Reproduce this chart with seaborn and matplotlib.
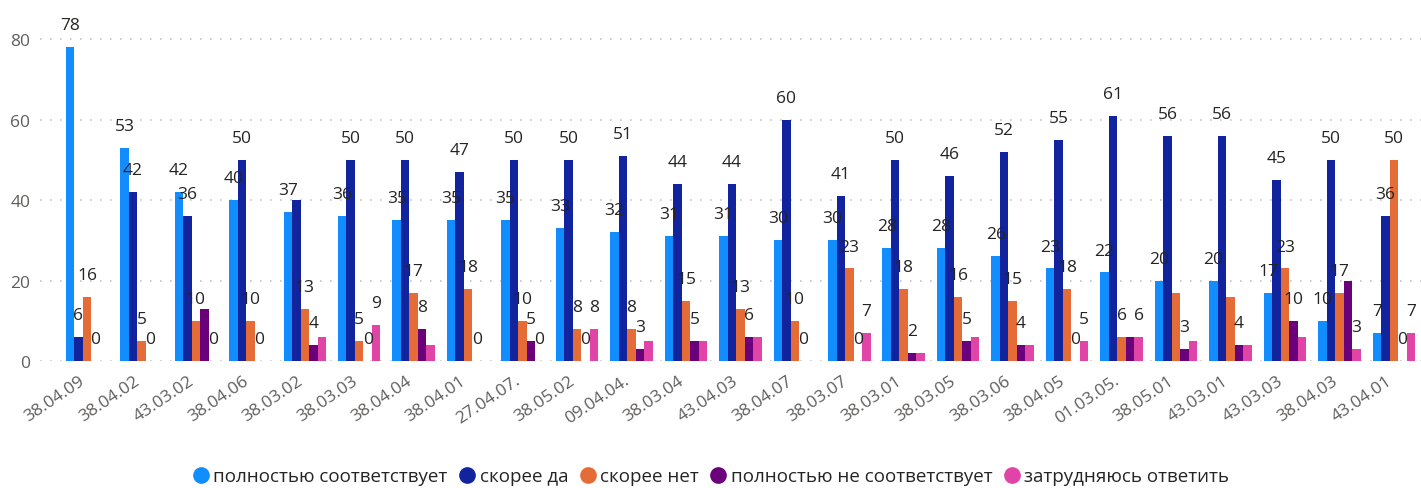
import matplotlib
matplotlib.use("Agg")
import matplotlib.pyplot as plt
import matplotlib.transforms as mtransforms
from matplotlib.lines import Line2D
import seaborn as sns
import pandas as pd

categories = ["38.04.09", "38.04.02", "43.03.02", "38.04.06", "38.03.02", "38.03.03",
              "38.04.04", "38.04.01", "27.04.07.", "38.05.02", "09.04.04.", "38.03.04",
              "43.04.03", "38.04.07", "38.03.07", "38.03.01", "38.03.05", "38.03.06",
              "38.04.05", "01.03.05.", "38.05.01", "43.03.01", "43.03.03", "38.04.03",
              "43.04.01"]

series_names = ["полностью соответствует", "скорее да", "скорее нет",
                "полностью не соответствует", "затрудняюсь ответить"]

full_yes = [78, 53, 42, 40, 37, 36, 35, 35, 35, 33, 32, 31, 31, 30, 30, 28, 28, 26, 23, 22, 20, 20, 17, 10, 7]
rather_yes = [6, 42, 36, 50, 40, 50, 50, 47, 50, 50, 51, 44, 44, 60, 41, 50, 46, 52, 55, 61, 56, 56, 45, 50, 36]
rather_no = [16, 5, 10, 10, 13, 5, 17, 18, 10, 8, 8, 15, 13, 10, 23, 18, 16, 15, 18, 6, 17, 16, 23, 17, 50]
full_no = [0, 0, 13, 0, 4, 0, 8, 0, 5, 0, 3, 5, 6, 0, 0, 2, 5, 4, 0, 6, 3, 4, 10, 20, 0]
hard_to_say = [0, 0, 0, 0, 6, 9, 4, 0, 0, 8, 5, 5, 6, 0, 7, 2, 6, 4, 5, 6, 5, 4, 6, 3, 7]

# data labels hidden in the original (category index, series index)
hidden_labels = {(0, 4), (1, 4), (2, 3), (3, 4), (4, 1), (4, 4), (6, 4), (7, 4),
                 (10, 4), (11, 4), (12, 4), (13, 4), (15, 4), (16, 4), (17, 4),
                 (19, 3), (20, 2), (20, 4), (21, 2), (21, 4), (22, 4), (23, 3)}

colors = ["#118DFF", "#12239E", "#E66C37", "#6B007B", "#E044A7"]

all_values = [full_yes, rather_yes, rather_no, full_no, hard_to_say]
rows = []
for s_name, vals in zip(series_names, all_values):
    for c, v in zip(categories, vals):
        rows.append({"category": c, "series": s_name, "value": v})
df = pd.DataFrame(rows)

sns.set_theme(style="white")
plt.rcParams["font.family"] = ["Open Sans", "DejaVu Sans"]

fig = plt.figure(figsize=(14.21, 4.89), dpi=100)
ax = fig.add_axes([40 / 1421, 127 / 489, 1 - 40 / 1421, 342 / 489])

sns.barplot(data=df, x="category", y="value", hue="series", order=categories,
            hue_order=series_names, palette=colors, width=0.78, gap=0,
            saturation=1, ax=ax, legend=False, errorbar=None, linewidth=0)

for si, cont in enumerate(ax.containers):
    labels = []
    for ci, v in enumerate(all_values[si]):
        labels.append("" if (ci, si) in hidden_labels else f"{v}")
    ax.bar_label(cont, labels=labels, padding=10, fontsize=12.5, color="#252423")

ax.set_xlim(-0.863, 24.5)
ax.set_ylim(0, 85)
ax.set_yticks([0, 20, 40, 60, 80])
ax.set_xlabel("")
ax.set_ylabel("")
for sp in ax.spines.values():
    sp.set_visible(False)
ax.grid(axis="y", color="#C8C6C4", linestyle=(0, (1, 5)), linewidth=1.2)
ax.set_axisbelow(True)
ax.tick_params(axis="y", length=0, pad=7, labelsize=12.5, labelcolor="#605E5C")
ax.tick_params(axis="x", length=0, pad=8, labelsize=12.5, labelcolor="#605E5C")

offset = mtransforms.ScaledTranslation(-8 / 100, 0, fig.dpi_scale_trans)
for lab in ax.get_xticklabels():
    lab.set_rotation(34)
    lab.set_ha("right")
    lab.set_va("top")
    lab.set_rotation_mode("anchor")
    lab.set_transform(lab.get_transform() + offset)

handles = [Line2D([0], [0], marker="o", linestyle="", markersize=11,
                  markerfacecolor=c, markeredgecolor=c) for c in colors]
fig.legend(handles, series_names, loc="center", bbox_to_anchor=(0.5, 0.024),
           ncol=5, frameon=False, fontsize=13.5, handletextpad=0.15,
           columnspacing=0.55, labelcolor="#252423", handlelength=1.0)

fig.savefig("out.png", dpi=100)
